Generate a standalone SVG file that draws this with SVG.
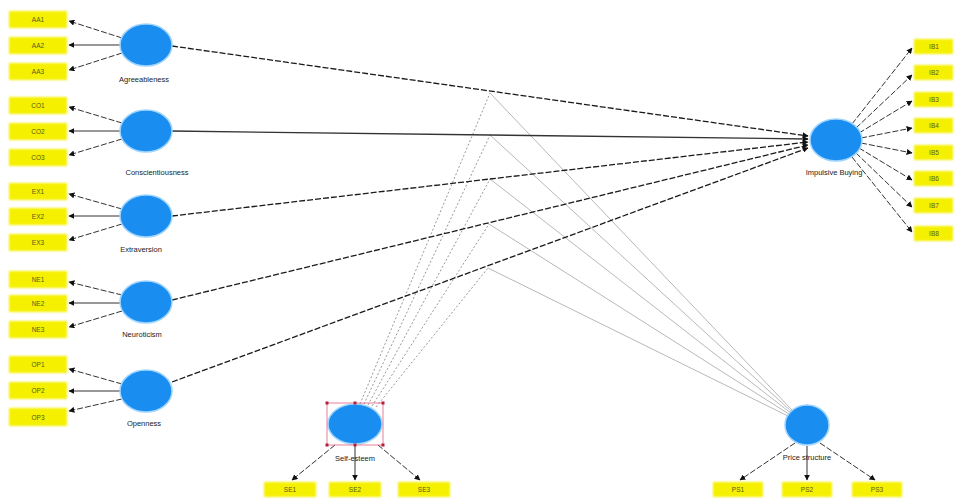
<svg xmlns="http://www.w3.org/2000/svg" width="957" height="499" viewBox="0 0 957 499">
<style>
.bg{fill:#ffffff}
.ind rect{fill:#f4f000;filter:url(#soft)}
.ind text{font-family:"Liberation Sans",Arial,sans-serif;font-size:6.5px;fill:#5a5a20;text-anchor:middle;dominant-baseline:central}
.lv ellipse{fill:#1a8ef0;stroke:#9fd4ff;stroke-width:1.5}
.lv text{font-family:"Liberation Sans",Arial,sans-serif;font-size:7.5px;fill:#222;text-anchor:middle}
.path{stroke:#1a1a1a;stroke-width:1.3;fill:none;marker-end:url(#ah)}
.dash{stroke-dasharray:6 2}
.meas{stroke:#333;stroke-width:1;fill:none;marker-end:url(#ah)}
.mod1{stroke:#999;stroke-width:1;fill:none;stroke-dasharray:2 2}
.mod2{stroke:#b8b8b8;stroke-width:1;fill:none}
.sel{fill:none;stroke:#e06080;stroke-width:0.8}
.hd{fill:#b0203a}
</style>
<defs>
<marker id="ah" viewBox="0 0 10 10" refX="9" refY="5" markerWidth="6" markerHeight="6" orient="auto-start-reverse" markerUnits="userSpaceOnUse">
<path d="M0,0 L10,5 L0,10 z" fill="#111"/>
</marker>
<filter id="soft" x="-20%" y="-40%" width="140%" height="180%">
<feGaussianBlur stdDeviation="1.2"/>
</filter>
</defs>
<rect class="bg" x="0" y="0" width="957" height="499"/>

<g id="connectors">
<g>
<line class="mod1" x1="360" y1="404" x2="490" y2="93"/>
<line class="mod1" x1="364" y1="404" x2="490" y2="135"/>
<line class="mod1" x1="368" y1="405" x2="490" y2="179"/>
<line class="mod1" x1="372" y1="406" x2="489" y2="224"/>
<line class="mod1" x1="376" y1="407" x2="488" y2="268"/>
<line class="mod2" x1="792" y1="410" x2="490" y2="93"/>
<line class="mod2" x1="792" y1="412" x2="490" y2="135"/>
<line class="mod2" x1="792" y1="414" x2="490" y2="179"/>
<line class="mod2" x1="792" y1="416" x2="489" y2="224"/>
<line class="mod2" x1="792" y1="418" x2="488" y2="268"/>
</g>
<line class="path dash" x1="172" y1="46" x2="808" y2="136"/>
<line class="path" style="stroke:#333" x1="172" y1="131" x2="808" y2="139"/>
<line class="path dash" x1="172" y1="216" x2="808" y2="142"/>
<line class="path dash" x1="172" y1="300" x2="808" y2="145"/>
<line class="path dash" x1="172" y1="382" x2="808" y2="148"/>
<line class="meas dash" x1="122" y1="38" x2="69" y2="21"/>
<line class="meas" x1="120" y1="45" x2="69" y2="45"/>
<line class="meas dash" x1="122" y1="53" x2="69" y2="70"/>
<line class="meas dash" x1="122" y1="123" x2="69" y2="107"/>
<line class="meas" x1="120" y1="131" x2="69" y2="131"/>
<line class="meas dash" x1="122" y1="139" x2="69" y2="155"/>
<line class="meas dash" x1="122" y1="209" x2="69" y2="194"/>
<line class="meas" x1="120" y1="216" x2="69" y2="216"/>
<line class="meas dash" x1="122" y1="224" x2="69" y2="240"/>
<line class="meas dash" x1="122" y1="295" x2="69" y2="282"/>
<line class="meas" x1="120" y1="303" x2="69" y2="303"/>
<line class="meas dash" x1="122" y1="311" x2="69" y2="327"/>
<line class="meas dash" x1="122" y1="384" x2="69" y2="369"/>
<line class="meas" x1="120" y1="391" x2="69" y2="391"/>
<line class="meas dash" x1="122" y1="399" x2="69" y2="411"/>
<line class="meas dash" x1="852" y1="124" x2="912" y2="48"/>
<line class="meas dash" x1="856" y1="128" x2="912" y2="75"/>
<line class="meas dash" x1="859" y1="133" x2="912" y2="101"/>
<line class="meas dash" x1="861" y1="138" x2="912" y2="128"/>
<line class="meas dash" x1="861" y1="143" x2="912" y2="153"/>
<line class="meas dash" x1="859" y1="148" x2="912" y2="180"/>
<line class="meas dash" x1="856" y1="153" x2="912" y2="207"/>
<line class="meas dash" x1="852" y1="157" x2="912" y2="232"/>
<line class="meas dash" x1="335" y1="445" x2="292" y2="480"/>
<line class="meas" x1="355" y1="445" x2="355" y2="480"/>
<line class="meas dash" x1="378" y1="445" x2="420" y2="480"/>
<line class="meas dash" x1="795" y1="443" x2="740" y2="480"/>
<line class="meas" x1="807" y1="446" x2="807" y2="480"/>
<line class="meas dash" x1="820" y1="443" x2="875" y2="480"/>
</g>

<g id="indicators-AG" class="ind">
<rect x="9" y="11" width="58" height="17"/><text x="38" y="19.5">AA1</text>
<rect x="9" y="37" width="58" height="17"/><text x="38" y="45.5">AA2</text>
<rect x="9" y="63" width="58" height="17"/><text x="38" y="71.5">AA3</text>
</g>
<g id="indicators-CO" class="ind">
<rect x="9" y="97" width="58" height="17"/><text x="38" y="105.5">CO1</text>
<rect x="9" y="123" width="58" height="17"/><text x="38" y="131.5">CO2</text>
<rect x="9" y="149" width="58" height="17"/><text x="38" y="157.5">CO3</text>
</g>
<g id="indicators-EX" class="ind">
<rect x="9" y="183" width="58" height="17"/><text x="38" y="191.5">EX1</text>
<rect x="9" y="208" width="58" height="17"/><text x="38" y="216.5">EX2</text>
<rect x="9" y="234" width="58" height="17"/><text x="38" y="242.5">EX3</text>
</g>
<g id="indicators-NE" class="ind">
<rect x="9" y="271" width="58" height="17"/><text x="38" y="279.5">NE1</text>
<rect x="9" y="295" width="58" height="17"/><text x="38" y="303.5">NE2</text>
<rect x="9" y="321" width="58" height="17"/><text x="38" y="329.5">NE3</text>
</g>
<g id="indicators-OP" class="ind">
<rect x="9" y="356" width="58" height="17"/><text x="38" y="364.5">OP1</text>
<rect x="9" y="382" width="58" height="17"/><text x="38" y="390.5">OP2</text>
<rect x="9" y="408" width="58" height="18"/><text x="38" y="417">OP3</text>
</g>
<g id="indicators-IB" class="ind">
<rect x="914" y="39" width="39" height="15"/><text x="934" y="46.5">IB1</text>
<rect x="914" y="65" width="39" height="15"/><text x="934" y="72.5">IB2</text>
<rect x="914" y="92" width="39" height="15"/><text x="934" y="99.5">IB3</text>
<rect x="914" y="118" width="39" height="15"/><text x="934" y="125.5">IB4</text>
<rect x="914" y="145" width="39" height="15"/><text x="934" y="152.5">IB5</text>
<rect x="914" y="171" width="39" height="15"/><text x="934" y="178.5">IB6</text>
<rect x="914" y="198" width="39" height="15"/><text x="934" y="205.5">IB7</text>
<rect x="914" y="226" width="39" height="15"/><text x="934" y="233.5">IB8</text>
</g>
<g id="indicators-SE" class="ind">
<rect x="264" y="482" width="52" height="15"/><text x="290" y="489.5">SE1</text>
<rect x="329" y="482" width="52" height="15"/><text x="355" y="489.5">SE2</text>
<rect x="398" y="482" width="52" height="15"/><text x="424" y="489.5">SE3</text>
</g>
<g id="indicators-PS" class="ind">
<rect x="713" y="482" width="50" height="15"/><text x="738" y="489.5">PS1</text>
<rect x="782" y="482" width="50" height="15"/><text x="807" y="489.5">PS2</text>
<rect x="852" y="482" width="50" height="15"/><text x="877" y="489.5">PS3</text>
</g>

<g id="node-agreeableness" class="lv">
<ellipse cx="146" cy="45" rx="26" ry="21"/>
<text x="144" y="82">Agreeableness</text>
</g>
<g id="node-conscientiousness" class="lv">
<ellipse cx="146" cy="131" rx="26" ry="21"/>
<text x="157" y="175">Conscientiousness</text>
</g>
<g id="node-extraversion" class="lv">
<ellipse cx="146" cy="216" rx="26" ry="21"/>
<text x="141" y="252">Extraversion</text>
</g>
<g id="node-neuroticism" class="lv">
<ellipse cx="146" cy="302" rx="26" ry="21"/>
<text x="142" y="337">Neuroticism</text>
</g>
<g id="node-openness" class="lv">
<ellipse cx="146" cy="391" rx="26" ry="21"/>
<text x="144" y="426">Openness</text>
</g>
<g id="node-impulsive-buying" class="lv">
<ellipse cx="836" cy="140" rx="26" ry="21"/>
<text x="834" y="175">Impulsive Buying</text>
</g>
<g id="node-self-esteem" class="lv">
<ellipse cx="355" cy="424" rx="27" ry="20"/>
<rect class="sel" x="327" y="403" width="56" height="42"/>
<rect class="hd" x="325.5" y="401.5" width="3" height="3"/>
<rect class="hd" x="381.5" y="401.5" width="3" height="3"/>
<rect class="hd" x="325.5" y="443.5" width="3" height="3"/>
<rect class="hd" x="381.5" y="443.5" width="3" height="3"/>
<rect class="hd" x="353.5" y="401.5" width="3" height="3"/>
<rect class="hd" x="353.5" y="443.5" width="3" height="3"/>
<text x="355" y="461">Self-esteem</text>
</g>
<g id="node-price-structure" class="lv">
<ellipse cx="807" cy="425" rx="22" ry="20"/>
<text x="807" y="460">Price structure</text>
</g>
</svg>
